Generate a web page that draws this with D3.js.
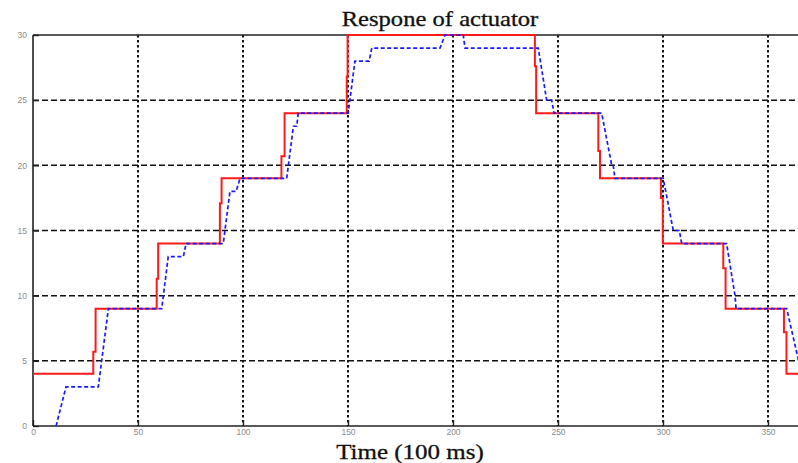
<!DOCTYPE html>
<html>
<head>
<meta charset="utf-8">
<script src="https://cdn.jsdelivr.net/npm/d3@7"></script>
<style>
  html, body { margin: 0; padding: 0; background: #ffffff; }
  svg { display: block; }
</style>
</head>
<body>
<svg id="chart" width="798" height="463"></svg>
<script>
// ---- Data ----
const titleText = "Respone of actuator";
const xLabelText = "Time (100 ms)";
const xTicks = [0, 50, 100, 150, 200, 250, 300, 350];
const yTicks = [0, 5, 10, 15, 20, 25, 30];

// Reference (red, solid) – step signal: [time, value]
const refTime  = [0, 28.7, 29.8, 58.9, 59.6, 89.0, 89.8, 118.3, 119.8, 149.4, 149.8, 239.0, 239.6, 269.2, 270.0, 299.0, 299.9, 328.7, 329.8, 357.6, 358.8, 400];
const refValue = [4, 5.7, 9, 11.3, 14, 17.1, 19, 20.7, 24, 26.8, 30, 27.6, 24, 21.1, 19, 17.5, 14, 12.1, 9, 7.2, 4, 4];

// Actuator response (blue, dashed): [time, value]
const actTime  = [11.0, 15.7, 31.1, 35.9, 61.3, 64.4, 71.6, 72.9, 90.6, 93.8, 96.7, 98.6, 120.8, 124.0, 125.6, 126.3, 150.1, 153.3, 160.1, 161.3, 193.8, 196.2, 204.9, 205.7, 240.6, 244.6, 247.0, 248.1, 270.8, 275.6, 276.3, 277.1, 300.1, 304.9, 307.8, 308.9, 330.3, 334.3, 334.8, 358.9, 366.0];
const actValue = [0, 3, 3, 9, 9, 13, 13, 14, 14, 18, 18, 19, 19, 23, 23, 24, 24, 28, 28, 29, 29, 30, 30, 29, 29, 25, 25, 24, 24, 20, 20, 19, 19, 15, 15, 14, 14, 10, 9, 9, 4];

// ---- Layout ----
const W = 798, H = 463;
const mLeft = 33, mTop = 35, mBottom = 426;
const pxPerUnit = 2.1;
const xMax = 400;

const svg = d3.select("#chart");
const x = d3.scaleLinear().domain([0, xMax]).range([mLeft, mLeft + xMax * pxPerUnit]);
const y = d3.scaleLinear().domain([0, 30]).range([mBottom, mTop]);

svg.append("defs").append("clipPath").attr("id", "clip")
  .append("rect").attr("x", mLeft).attr("y", mTop - 2).attr("width", W - mLeft).attr("height", mBottom - mTop + 4);

// Grid
const grid = svg.append("g");
grid.selectAll("line.h").data(yTicks.filter(d => d > 0 && d < 30)).enter().append("line")
  .attr("x1", mLeft).attr("x2", W).attr("y1", d => y(d)).attr("y2", d => y(d))
  .attr("stroke", "#111").attr("stroke-width", 1.5).attr("stroke-dasharray", "6,3");
grid.selectAll("line.v").data(xTicks.filter(d => d > 0)).enter().append("line")
  .attr("x1", d => x(d)).attr("x2", d => x(d)).attr("y1", mTop).attr("y2", mBottom)
  .attr("stroke", "#111").attr("stroke-width", 2).attr("stroke-dasharray", "2.5,2.5");

// Axes (inward ticks)
const xAxis = d3.axisBottom(x).tickValues(xTicks).tickSize(-6).tickPadding(10).tickFormat(d3.format("d"));
const yAxis = d3.axisLeft(y).tickValues(yTicks).tickSize(-6).tickPadding(10).tickFormat(d3.format("d"));

const gx = svg.append("g").attr("transform", `translate(0,${mBottom})`).call(xAxis);
const gy = svg.append("g").attr("transform", `translate(${mLeft},0)`).call(yAxis);
[gx, gy].forEach(g => {
  g.select(".domain").remove();
  g.selectAll(".tick line").attr("stroke", "#222").attr("stroke-width", 1.4);
  g.selectAll(".tick text").attr("fill", "#8a8a8a").attr("font-family", "Liberation Sans, Arial, sans-serif").attr("font-size", 8.5);
});
gx.selectAll(".tick text").attr("dy", "-0.1em");
gy.selectAll(".tick text").attr("dx", "4");

// Frame lines
svg.append("line").attr("x1", mLeft).attr("x2", W).attr("y1", mBottom).attr("y2", mBottom).attr("stroke", "#222").attr("stroke-width", 1.6);
svg.append("line").attr("x1", mLeft).attr("x2", W).attr("y1", mTop).attr("y2", mTop).attr("stroke", "#222").attr("stroke-width", 1.6);
svg.append("line").attr("x1", mLeft).attr("x2", mLeft).attr("y1", mTop).attr("y2", mBottom).attr("stroke", "#222").attr("stroke-width", 1.6);

// Lines
const plot = svg.append("g").attr("clip-path", "url(#clip)");
const refData = refTime.map((t, i) => [t, refValue[i]]);
const actData = actTime.map((t, i) => [t, actValue[i]]);

const stepLine = d3.line().x(d => x(d[0])).y(d => y(d[1])).curve(d3.curveStepAfter);
const linLine = d3.line().x(d => x(d[0])).y(d => y(d[1]));

plot.append("path").datum(refData).attr("d", stepLine)
  .attr("fill", "none").attr("stroke", "#ff1a1a").attr("stroke-width", 2);
plot.append("path").datum(actData).attr("d", linLine)
  .attr("fill", "none").attr("stroke", "#1a1aff").attr("stroke-width", 1.7).attr("stroke-dasharray", "4,2.5");

// Title and label (source image is horizontally stretched)
svg.append("text").attr("transform", "translate(440,26) scale(1.2,1)").attr("text-anchor", "middle")
  .attr("font-family", "Liberation Serif, Times New Roman, serif").attr("font-size", 20.5)
  .attr("fill", "#111").attr("stroke", "#111").attr("stroke-width", 0.3).text(titleText);
svg.append("text").attr("transform", "translate(410,459) scale(1.22,1)").attr("text-anchor", "middle")
  .attr("font-family", "Liberation Serif, Times New Roman, serif").attr("font-size", 20.5)
  .attr("fill", "#111").attr("stroke", "#111").attr("stroke-width", 0.3).text(xLabelText);
</script>
</body>
</html>
